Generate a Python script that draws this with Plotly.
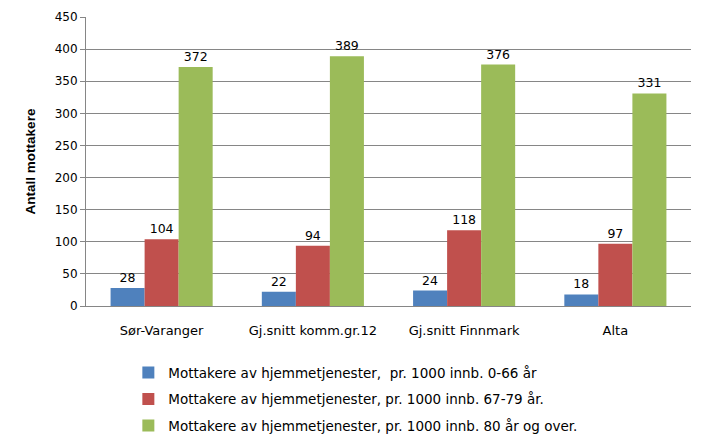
import plotly.graph_objects as go

categories = ["Sør-Varanger", "Gj.snitt komm.gr.12", "Gj.snitt Finnmark", "Alta"]
series_names = [
    "Mottakere av hjemmetjenester,  pr. 1000 innb. 0-66 år",
    "Mottakere av hjemmetjenester, pr. 1000 innb. 67-79 år.",
    "Mottakere av hjemmetjenester, pr. 1000 innb. 80 år og over.",
]
values_0_66 = [28, 22, 24, 18]
values_67_79 = [104, 94, 118, 97]
values_80 = [372, 389, 376, 331]
colors = ["#4F81BD", "#C0504D", "#9BBB59"]

font_family = "DejaVu Sans, Verdana, sans-serif"

fig = go.Figure()
for i, (name, vals) in enumerate(zip(series_names, [values_0_66, values_67_79, values_80])):
    fig.add_trace(go.Bar(
        x=categories, y=vals, name=name, legendgroup=f"g{i}",
        marker=dict(color=colors[i], line=dict(width=0)),
        text=[str(v) for v in vals], textposition="outside",
        textfont=dict(size=12.5, color="#000000", family=font_family),
        cliponaxis=False,
    ))

fig.update_layout(
    width=700, height=437,
    margin=dict(l=78, r=17, t=9, b=139),
    paper_bgcolor="white", plot_bgcolor="white",
    barmode="group", bargap=0.325, bargroupgap=0,
    font=dict(family=font_family, size=12, color="#000000"),
    showlegend=True,
    legend=dict(
        orientation="v", x=0.07, xref="paper", y=0.201, yref="container",
        xanchor="left", yanchor="top",
        traceorder="grouped", tracegroupgap=6,
        font=dict(size=13.5, family=font_family),
        itemwidth=30,
    ),
    xaxis=dict(
        showline=True, linecolor="#868686", linewidth=1,
        ticks="", showgrid=False, tickfont=dict(size=13),
        ticklabelstandoff=12, automargin=False,
    ),
    yaxis=dict(
        range=[0, 450], dtick=50, showgrid=True, gridcolor="#868686", gridwidth=1,
        showline=True, linecolor="#868686", linewidth=1,
        ticks="outside", ticklen=5, tickcolor="#868686",
        tickfont=dict(size=12), zeroline=False, automargin=False,
        title=dict(text="<b>Antall mottakere</b>",
                   font=dict(size=13.5, family="Liberation Sans, Arial, sans-serif"),
                   standoff=15),
    ),
)

fig.write_html("out.html")
